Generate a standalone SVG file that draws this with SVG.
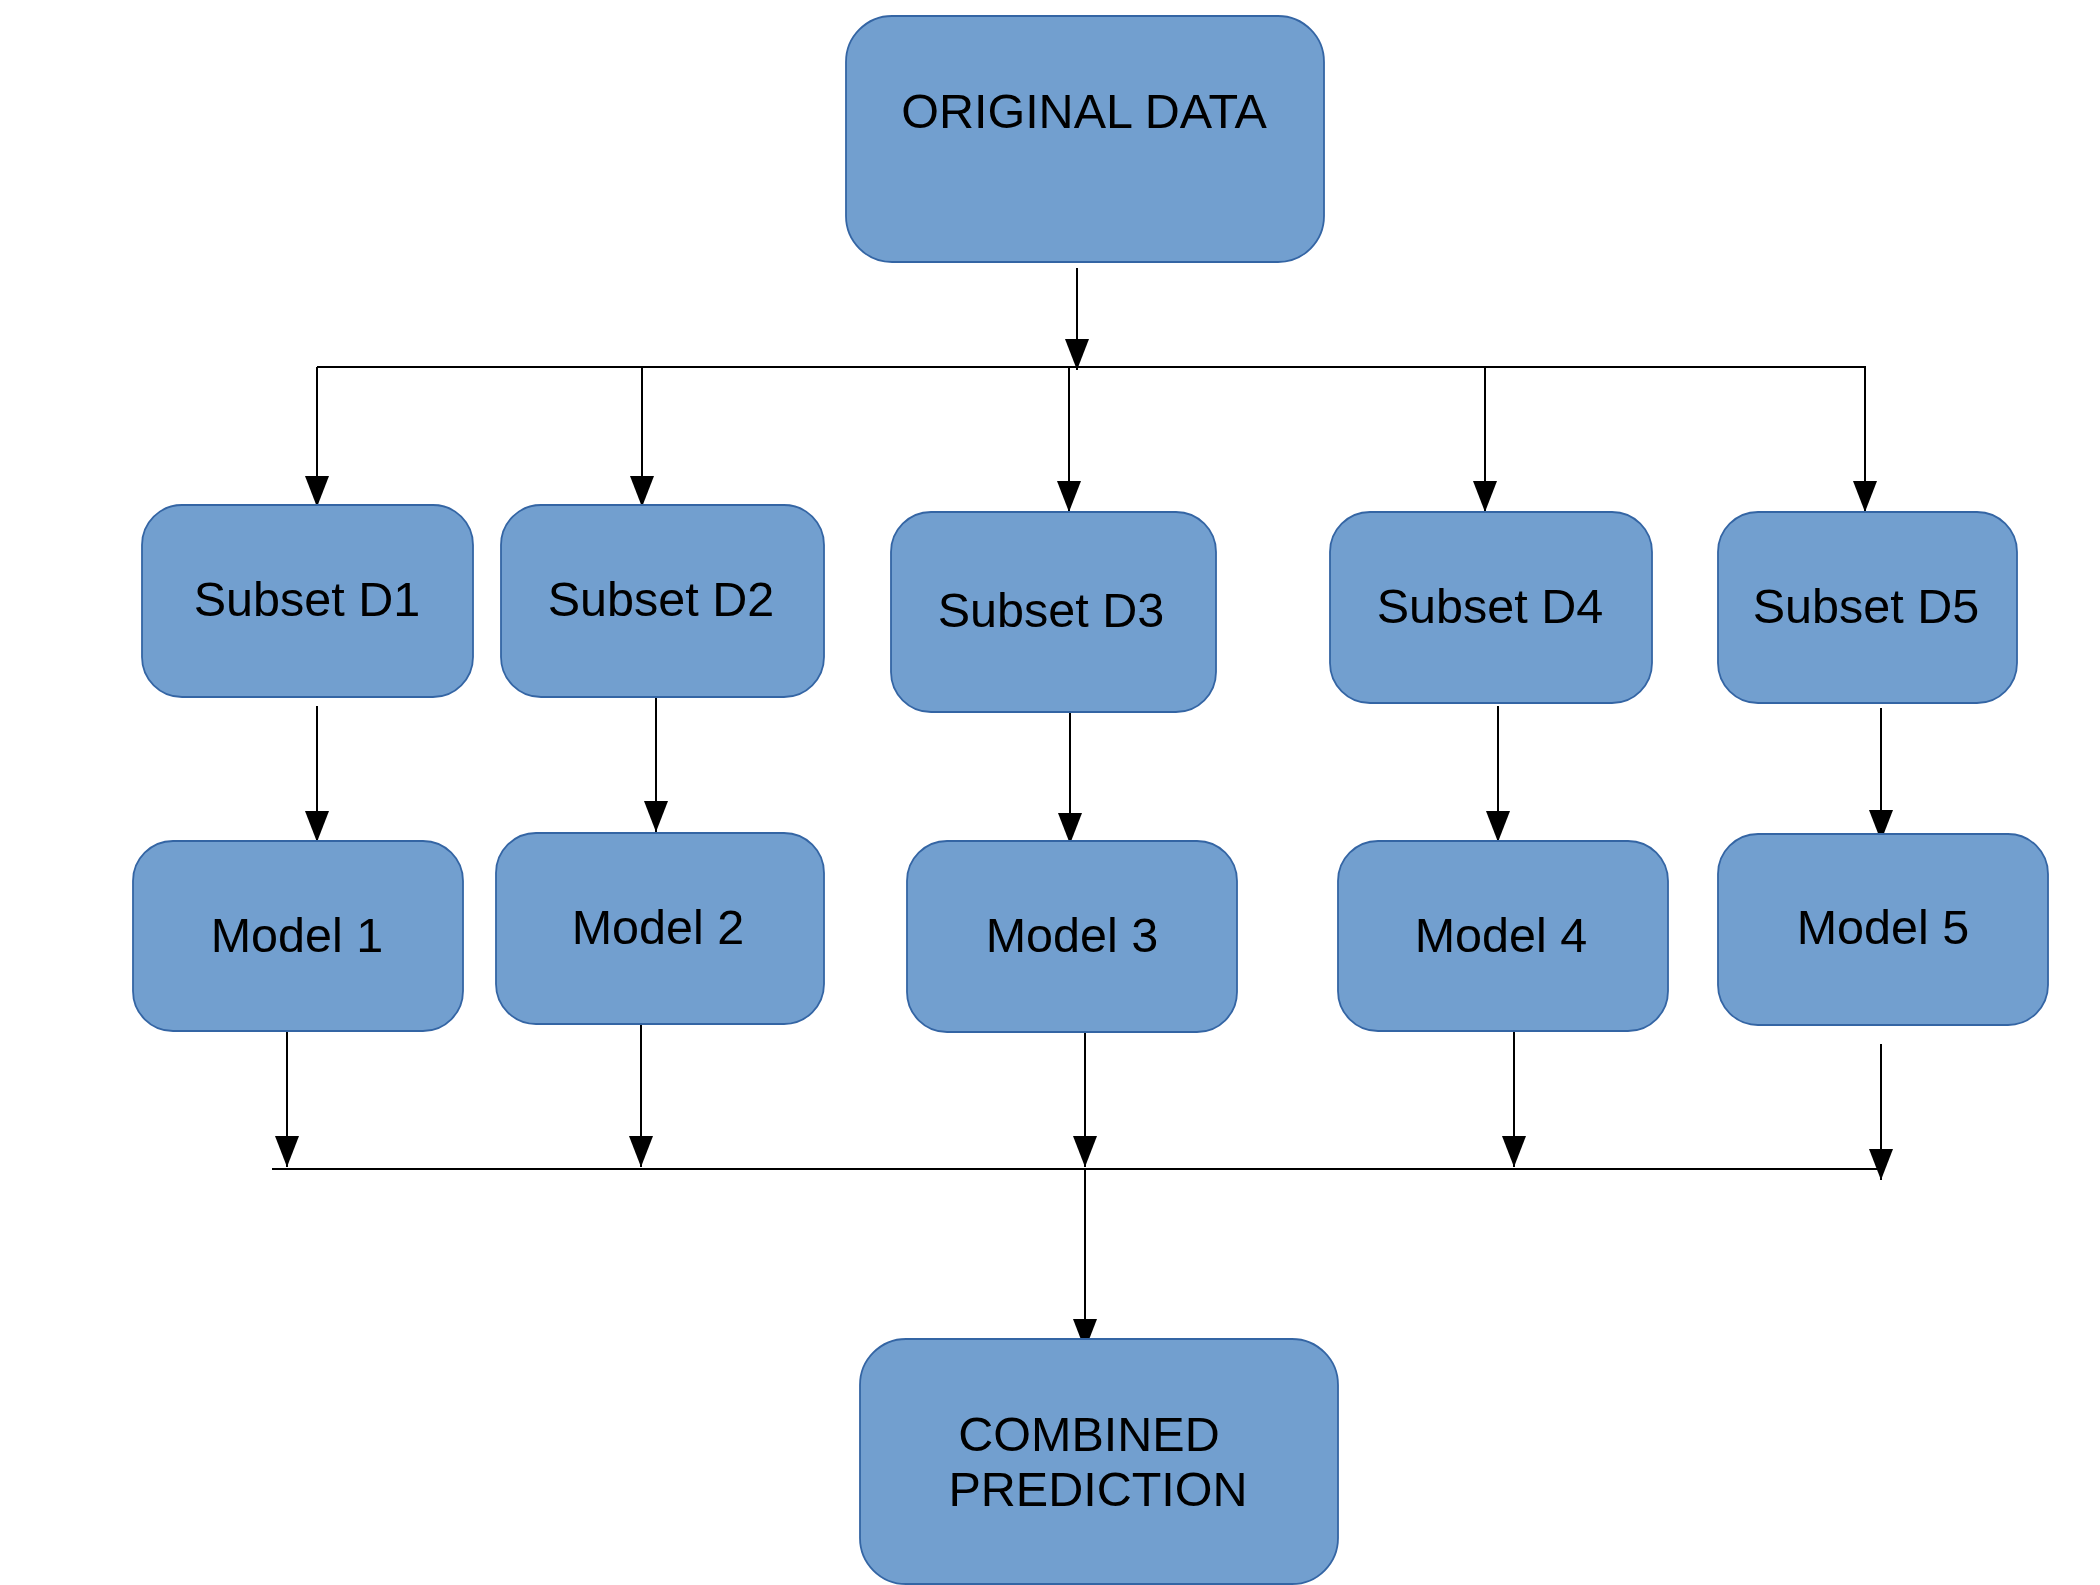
<svg xmlns="http://www.w3.org/2000/svg" width="2100" height="1585" viewBox="0 0 2100 1585">
<style>
.box{fill:#729fcf;stroke:#3465a4;stroke-width:1.8}
.lbl{font-family:"Liberation Sans",Arial,sans-serif;font-size:48.5px;fill:#000;text-anchor:middle}
.c{stroke:#000;stroke-width:2;fill:none}
.ca{stroke:#000;stroke-width:2;fill:none;marker-end:url(#ah)}
</style>
<defs>
<marker id="ah" markerUnits="userSpaceOnUse" markerWidth="31" markerHeight="24" viewBox="0 0 31 24" refX="31" refY="12" orient="auto">
<path d="M0,0 L31,12 L0,24 z" fill="#000"/>
</marker>
</defs>
<rect width="2100" height="1585" fill="#fff"/>
<g id="connectors">
<line class="ca" x1="1077" y1="268" x2="1077" y2="370"/>
<line class="c" x1="317" y1="367" x2="1866" y2="367"/>
<line class="ca" x1="317" y1="367" x2="317" y2="507"/>
<line class="ca" x1="642" y1="367" x2="642" y2="507"/>
<line class="ca" x1="1069" y1="367" x2="1069" y2="512"/>
<line class="ca" x1="1485" y1="367" x2="1485" y2="512"/>
<line class="ca" x1="1865" y1="367" x2="1865" y2="512"/>
<line class="ca" x1="317" y1="706" x2="317" y2="842"/>
<line class="ca" x1="656" y1="697" x2="656" y2="832"/>
<line class="ca" x1="1070" y1="713" x2="1070" y2="844"/>
<line class="ca" x1="1498" y1="706" x2="1498" y2="842"/>
<line class="ca" x1="1881" y1="708" x2="1881" y2="841"/>
<line class="ca" x1="287" y1="1031" x2="287" y2="1167"/>
<line class="ca" x1="641" y1="1025" x2="641" y2="1167"/>
<line class="ca" x1="1085" y1="1033" x2="1085" y2="1167"/>
<line class="ca" x1="1514" y1="1031" x2="1514" y2="1167"/>
<line class="ca" x1="1881" y1="1044" x2="1881" y2="1180"/>
<line class="c" x1="272" y1="1169" x2="1881" y2="1169"/>
<line class="ca" x1="1085" y1="1169" x2="1085" y2="1350"/>
</g>
<g id="original-data">
<rect class="box" x="846" y="16" width="478" height="246" rx="46" ry="46"/>
<text class="lbl" x="1084" y="128">ORIGINAL DATA</text>
</g>
<g id="subset-d1">
<rect class="box" x="142" y="505" width="331" height="192" rx="40" ry="40"/>
<text class="lbl" x="307" y="616">Subset D1</text>
</g>
<g id="subset-d2">
<rect class="box" x="501" y="505" width="323" height="192" rx="40" ry="40"/>
<text class="lbl" x="661" y="616">Subset D2</text>
</g>
<g id="subset-d3">
<rect class="box" x="891" y="512" width="325" height="200" rx="40" ry="40"/>
<text class="lbl" x="1051" y="627">Subset D3</text>
</g>
<g id="subset-d4">
<rect class="box" x="1330" y="512" width="322" height="191" rx="40" ry="40"/>
<text class="lbl" x="1490" y="623">Subset D4</text>
</g>
<g id="subset-d5">
<rect class="box" x="1718" y="512" width="299" height="191" rx="40" ry="40"/>
<text class="lbl" x="1866" y="623">Subset D5</text>
</g>
<g id="model-1">
<rect class="box" x="133" y="841" width="330" height="190" rx="40" ry="40"/>
<text class="lbl" x="297" y="952">Model 1</text>
</g>
<g id="model-2">
<rect class="box" x="496" y="833" width="328" height="191" rx="40" ry="40"/>
<text class="lbl" x="658" y="944">Model 2</text>
</g>
<g id="model-3">
<rect class="box" x="907" y="841" width="330" height="191" rx="40" ry="40"/>
<text class="lbl" x="1072" y="952">Model 3</text>
</g>
<g id="model-4">
<rect class="box" x="1338" y="841" width="330" height="190" rx="40" ry="40"/>
<text class="lbl" x="1501" y="952">Model 4</text>
</g>
<g id="model-5">
<rect class="box" x="1718" y="834" width="330" height="191" rx="40" ry="40"/>
<text class="lbl" x="1883" y="944">Model 5</text>
</g>
<g id="combined-prediction">
<rect class="box" x="860" y="1339" width="478" height="245" rx="46" ry="46"/>
<text class="lbl" x="1089" y="1451">COMBINED</text>
<text class="lbl" x="1098" y="1506">PREDICTION</text>
</g>
</svg>
